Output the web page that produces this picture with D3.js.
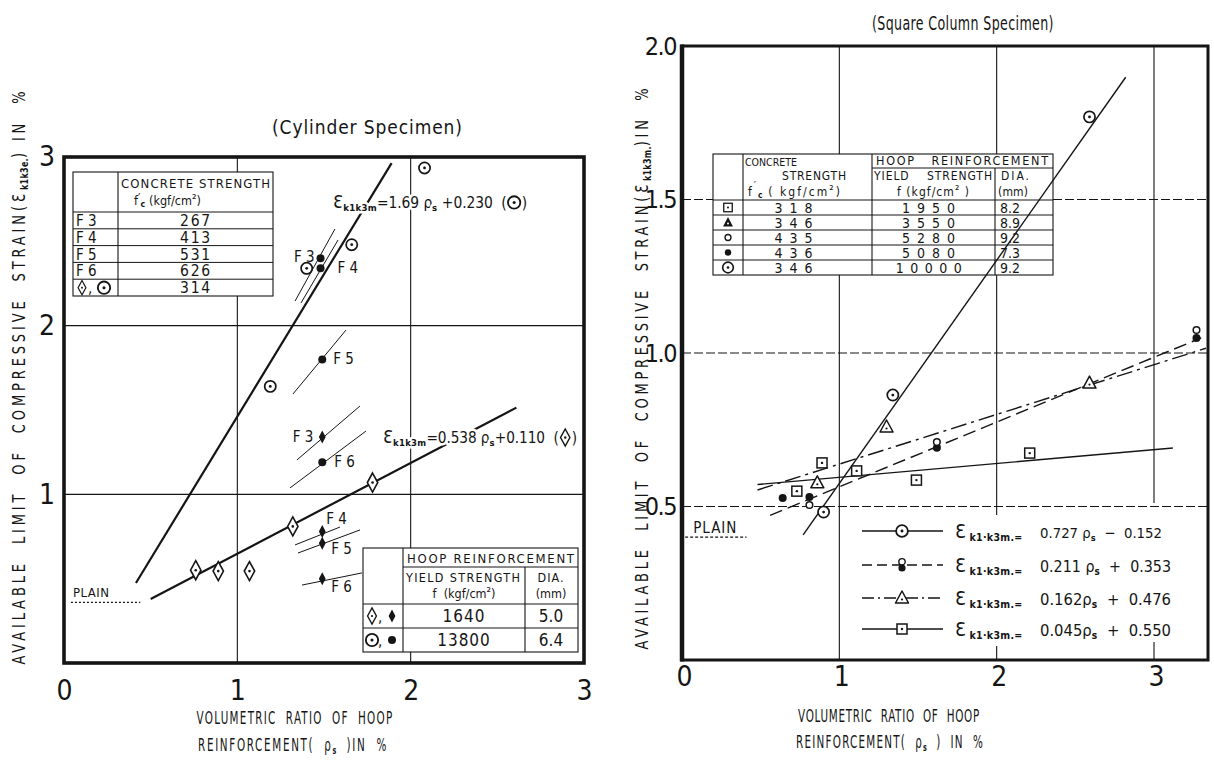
<!DOCTYPE html>
<html>
<head>
<meta charset="utf-8">
<script src="https://cdn.jsdelivr.net/npm/d3@7/dist/d3.min.js"></script>
<style>
  html, body { margin: 0; padding: 0; background: #fff; }
  svg text { font-family: "DejaVu Sans Condensed", "DejaVu Sans", "Liberation Sans Narrow", sans-serif; fill: #151515; }
</style>
</head>
<body>
<svg id="fig" width="1214" height="762" xml:space="preserve"></svg>
<script>
// ---------------- Cylinder specimens (left panel) ----------------
const cylXTicks = [0, 1, 2, 3];
const cylYTicks = [1, 2, 3];
const cylCircleOpen = [[1.19, 1.64], [1.40, 2.34], [1.66, 2.48], [2.08, 2.935]];
const cylFLabels = ["F 3", "F 4", "F 5", "F 6"];
const cylCircleFilled = [[1.48, 2.40], [1.48, 2.34], [1.49, 1.80], [1.49, 1.19]];
const cylDiamondOpen = [[0.76, 0.55], [0.89, 0.545], [1.07, 0.545], [1.32, 0.81], [1.78, 1.07]];
const cylDiamondFilled = [[1.49, 1.34], [1.49, 0.78], [1.49, 0.71], [1.49, 0.50]];
const cylCircleFilledFits = [[[1.333, 2.146], [1.563, 2.573]], [[1.367, 2.134], [1.581, 2.508]],
                             [[1.321, 1.595], [1.627, 1.974]], [[1.304, 1.038], [1.742, 1.375]]];
const cylDiamondFilledFits = [[[1.344, 1.204], [1.708, 1.524]], [[1.333, 0.700], [1.592, 0.806]],
                              [[1.350, 0.652], [1.708, 0.789]], [[1.373, 0.462], [1.719, 0.534]]];
const cylCircleFit = [[0.415, 0.474], [1.89, 2.964]];
const cylCircleEq = [1.69, 0.230];
const cylDiamondEq = [0.538, 0.110];
const cylDiamondFitRange = [0.50, 2.61];
const cylPlain = 0.36;
const cylPlainRange = [0.04, 0.44];
const cylStrengthNames = ["F 3", "F 4", "F 5", "F 6"];
const cylStrengthValues = [267, 413, 531, 626, 314];
const cylHoopYield = [1640, 13800];
const cylHoopDia = ["5.0", "6.4"];

// ---------------- Square column specimens (right panel) ----------------
const sqXTicks = [0, 1, 2, 3];
const sqYTicks = [0.5, 1.0, 1.5, 2.0];
const sqSquare = [[0.73, 0.55], [0.89, 0.642], [1.11, 0.616], [1.49, 0.586], [2.21, 0.674]];
const sqTriangle = [[0.86, 0.577], [1.30, 0.759], [2.59, 0.902]];
const sqCircleOpen = [[0.81, 0.505], [1.62, 0.710], [3.27, 1.075]];
const sqCircleFilled = [[0.64, 0.528], [0.81, 0.531], [1.62, 0.691], [3.27, 1.049]];
const sqCircleDot = [[0.90, 0.482], [1.34, 0.863], [2.59, 1.769]];
const sqFitSlopes = [0.727, 0.211, 0.162, 0.045];
const sqFitIntercepts = [-0.152, 0.353, 0.476, 0.550];
const sqFitFrom = [0.77, 0.56, 0.48, 0.48];
const sqFitTo = [2.82, 3.30, 3.33, 3.12];
const sqPlain = 0.40;
const sqPlainRange = [0.02, 0.41];
const sqConcrete = [318, 346, 435, 436, 346];
const sqYield = [1950, 3550, 5280, 5080, 10000];
const sqDia = ["8.2", "8.9", "9.2", "7.3", "9.2"];

const INK = "#151515";
const svg = d3.select("#fig");

// ---------- helpers ----------
function marker(g, type, x, y, k = 1) {
  const m = g.append("g").attr("transform", `translate(${x},${y}) scale(${k})`);
  const dot = (dy = 0, r = 1.4, c = INK) => m.append("circle").attr("cy", dy).attr("r", r).attr("fill", c);
  const outline = sel => sel.attr("fill", "#fff").attr("stroke", INK);
  switch (type) {
    case "circleDot":
      outline(m.append("circle").attr("r", 5.6)).attr("stroke-width", 1.7); dot(); break;
    case "circleFilled":
      m.append("circle").attr("r", 4).attr("fill", INK); break;
    case "circleOpen":
      outline(m.append("circle").attr("r", 3.3)).attr("stroke-width", 1.5); break;
    case "diamondDot":
      outline(m.append("path").attr("d", "M0,-9.5L5.2,0L0,9.5L-5.2,0Z")).attr("stroke-width", 1.6); dot(0, 1.3); break;
    case "diamondFilled":
      m.append("path").attr("d", "M0,-6.5L3.4,0L0,6.5L-3.4,0Z").attr("fill", INK); break;
    case "squareDot":
      outline(m.append("rect").attr("x", -5).attr("y", -5).attr("width", 10).attr("height", 10)).attr("stroke-width", 1.5);
      dot(0, 1.2); break;
    case "triangleDot":
      outline(m.append("path").attr("d", "M0,-7L6.5,5L-6.5,5Z")).attr("stroke-width", 1.5).attr("stroke-linejoin", "round");
      dot(1.5, 1.1); break;
    case "triangleFilled":
      m.append("path").attr("d", "M0,-6L5.5,4.5L-5.5,4.5Z").attr("fill", INK); dot(1.2, 1.1, "#fff"); break;
    case "pair":
      outline(m.append("circle").attr("cy", -3.2).attr("r", 3.2)).attr("stroke-width", 1.4);
      m.append("circle").attr("cy", 3).attr("r", 3.6).attr("fill", INK); break;
  }
  return m;
}

// Run of text pieces (plain, subscript, inline marker) laid out left to right.
// o.sq narrows the glyphs horizontally; o.len spreads the run to a given width.
function rich(g, x, y, parts, o = {}) {
  let fs = o.fs || 15;
  const sq = o.sq || 1;
  const grp = g.append("g").attr("transform", `translate(${x},${y})` + (o.rotate ? ` rotate(${o.rotate})` : ""));
  const inner = grp.append("g");
  const items = parts.map(p => {
    if (p.m) return { p };
    const t = inner.append("text").style("white-space", "pre").text(p.t);
    if (p.sub) t.attr("font-weight", "bold");
    if (o.halo) t.attr("stroke", "#fff").attr("stroke-width", 5).attr("stroke-linejoin", "round").attr("paint-order", "stroke");
    return { p, t };
  });
  const size = () => items.forEach(it => {
    if (!it.t) return;
    const p = it.p;
    it.t.attr("font-size", p.sub ? fs * (p.k || 0.62) : fs * (p.k || 1))
      .attr("y", p.sub ? fs * (p.dy ?? 0.18) : (p.dy ?? 0));
  });
  const place = extra => {
    let pos = 0;
    items.forEach(it => {
      if (it.p.m) { it.x = pos; pos += it.p.w; return; }
      it.t.attr("x", pos).attr("letter-spacing", it.p.sub ? 0.3 : (o.ls || 0) + extra);
      pos += it.t.node().getComputedTextLength();
    });
    return pos;
  };
  size();
  let total = place(0);
  if (o.len) {
    const target = o.len / sq;
    if (total > target) { fs *= target / total; size(); total = place(0); }
    const n = items.filter(it => it.t && !it.p.sub).reduce((s, it) => s + it.p.t.length, 0);
    total = place((target - total) / n);
  }
  if (o.halo) {
    items.filter(it => it.p.m).forEach(it =>
      inner.append("rect").attr("x", it.x).attr("y", -fs * 0.9).attr("width", it.p.w).attr("height", fs * 1.1).attr("fill", "#fff"));
  }
  items.filter(it => it.p.m).forEach(it => marker(inner, it.p.m, it.x + it.p.w / 2, -fs * 0.36, it.p.s || 1));
  const w = total * sq;
  const shift = o.anchor === "middle" ? -w / 2 : o.anchor === "end" ? -w : 0;
  inner.attr("transform", `translate(${shift},0) scale(${sq},1)`);
  return grp;
}

// Single text; with o.len the run is spread (or shrunk) to that width.
function txt(g, x, y, s, o = {}) {
  const t = g.append("text").attr("x", x).attr("y", y).attr("font-size", o.fs || 14)
    .attr("text-anchor", o.anchor || "start").style("white-space", "pre").text(s);
  if (o.ls) t.attr("letter-spacing", o.ls);
  if (o.len) {
    const natural = t.node().getComputedTextLength();
    if (natural > o.len) t.attr("font-size", (o.fs || 14) * o.len / natural);
    t.attr("textLength", o.len).attr("lengthAdjust", "spacing");
  }
  return t;
}

function seg(g, x1, y1, x2, y2, w = 1, dash = null) {
  const l = g.append("line").attr("x1", x1).attr("y1", y1).attr("x2", x2).attr("y2", y2)
    .attr("stroke", INK).attr("stroke-width", w);
  if (dash) l.attr("stroke-dasharray", dash);
  return l;
}

// ======================= LEFT PANEL =======================
const L = svg.append("g");
const lx = d3.scaleLinear().domain([0, 3]).range([64, 584]);
const ly = d3.scaleLinear().domain([0, 3]).range([663, 157]);
const lline = d3.line().x(d => lx(d[0])).y(d => ly(d[1]));

// grid (broken where the tables sit)
const lt1 = { x: [73, 118, 273], y: [172, 212, 228.8, 245.6, 262.4, 279.2, 296] };
const lt2 = { x: [363, 403, 525, 578], y: [548, 567, 604, 628, 652] };
const lGrid = L.append("g");
seg(lGrid, lx(1), ly(3), lx(1), lt1.y[0], 1.1);
seg(lGrid, lx(1), lt1.y[6], lx(1), ly(0), 1.1);
seg(lGrid, lx(2), ly(3), lx(2), lt2.y[0], 1.1);
seg(lGrid, lx(2), lt2.y[4], lx(2), ly(0), 1.1);
[1, 2].forEach(v => seg(lGrid, lx(0), ly(v), lx(3), ly(v), 1.1));

// concrete strength table
const T1 = L.append("g");
T1.append("rect").attr("x", lt1.x[0]).attr("y", lt1.y[0]).attr("width", lt1.x[2] - lt1.x[0])
  .attr("height", lt1.y[6] - lt1.y[0]).attr("fill", "#fff").attr("stroke", INK).attr("stroke-width", 1.1);
seg(T1, lt1.x[1], lt1.y[0], lt1.x[1], lt1.y[6], 1.1);
lt1.y.slice(1, 6).forEach(y => seg(T1, lt1.x[0], y, lt1.x[2], y, 1));
txt(T1, 121, 188, "CONCRETE STRENGTH", { fs: 13, len: 149 });
rich(T1, 134, 205, [{ t: "f" }, { t: "′", dy: -3 }, { t: "c", sub: true, k: 0.7 }, { t: " (kgf/cm" }, { t: "²", dy: -2 }, { t: ")" }], { fs: 12.5 });
cylStrengthValues.forEach((v, i) => {
  const base = lt1.y[i + 1] + 14;
  if (i < cylStrengthNames.length) txt(T1, 76, base, cylStrengthNames[i], { fs: 15 });
  txt(T1, 196, base, String(v), { fs: 15.5, anchor: "middle", ls: 1.8 });
});
marker(T1, "diamondDot", 82, lt1.y[5] + 8.5, 0.75);
txt(T1, 88, lt1.y[5] + 14, ",", { fs: 15 });
marker(T1, "circleDot", 104, lt1.y[5] + 8.5, 1.1);

// hoop reinforcement table
const T2 = L.append("g");
T2.append("rect").attr("x", lt2.x[0]).attr("y", lt2.y[0]).attr("width", lt2.x[3] - lt2.x[0])
  .attr("height", lt2.y[4] - lt2.y[0]).attr("fill", "#fff").attr("stroke", INK).attr("stroke-width", 1.1);
seg(T2, lt2.x[1], lt2.y[0], lt2.x[1], lt2.y[4], 1.1);
seg(T2, lt2.x[2], lt2.y[1], lt2.x[2], lt2.y[4], 1.1);
seg(T2, lt2.x[1], lt2.y[1], lt2.x[3], lt2.y[1], 1);
seg(T2, lt2.x[0], lt2.y[2], lt2.x[3], lt2.y[2], 1);
seg(T2, lt2.x[0], lt2.y[3], lt2.x[3], lt2.y[3], 1);
txt(T2, 407, 563, "HOOP REINFORCEMENT", { fs: 13, len: 167 });
txt(T2, 406, 582, "YIELD STRENGTH", { fs: 12.5, len: 114 });
rich(T2, 464, 598, [{ t: "f  (kgf/cm" }, { t: "²", dy: -2 }, { t: ")" }], { fs: 12.5, anchor: "middle" });
txt(T2, 551, 582, "DIA.", { fs: 12.5, anchor: "middle", ls: 1 });
txt(T2, 551, 598, "(mm)", { fs: 12.5, anchor: "middle" });
cylHoopYield.forEach((v, i) => {
  const base = lt2.y[i + 2] + 18;
  txt(T2, 464, base, String(v), { fs: 17, anchor: "middle", ls: 1 });
  txt(T2, 551, base, cylHoopDia[i], { fs: 17, anchor: "middle" });
});
marker(T2, "diamondDot", 372, lt2.y[2] + 12, 0.85);
txt(T2, 378, lt2.y[2] + 18, ",", { fs: 15 });
marker(T2, "diamondFilled", 392, lt2.y[2] + 12, 1);
marker(T2, "circleDot", 372, lt2.y[3] + 12, 1.1);
txt(T2, 378, lt2.y[3] + 18, ",", { fs: 15 });
marker(T2, "circleFilled", 392, lt2.y[3] + 12, 1);

// frame
L.append("rect").attr("x", lx(0)).attr("y", ly(3)).attr("width", lx(3) - lx(0)).attr("height", ly(0) - ly(3))
  .attr("fill", "none").attr("stroke", INK).attr("stroke-width", 3.6);

// axes
L.append("g").attr("transform", `translate(0,${ly(0)})`)
  .call(d3.axisBottom(lx).tickValues(cylXTicks).tickSize(0).tickPadding(17).tickFormat(d3.format("d")))
  .call(g => g.select(".domain").remove()).attr("font-size", 28);
L.append("g").attr("transform", `translate(${lx(0)},0)`)
  .call(d3.axisLeft(ly).tickValues(cylYTicks).tickSize(0).tickPadding(9).tickFormat(d3.format("d")))
  .call(g => g.select(".domain").remove()).attr("font-size", 28);

// plain concrete level
seg(L, lx(cylPlainRange[0]), ly(cylPlain), lx(cylPlainRange[1]), ly(cylPlain), 1.2, "2,2");
txt(L, lx(cylPlainRange[0]) + 2, ly(cylPlain) - 5, "PLAIN", { fs: 13, ls: 0.5 });

// fitted lines
const lLines = L.append("g").attr("fill", "none").attr("stroke", INK);
lLines.append("path").attr("d", lline(cylCircleFit)).attr("stroke-width", 2.2);
lLines.append("path").attr("d", lline(cylDiamondFitRange.map(x => [x, cylDiamondEq[0] * x + cylDiamondEq[1]]))).attr("stroke-width", 2.2);
cylCircleFilledFits.concat(cylDiamondFilledFits).forEach(f => lLines.append("path").attr("d", lline(f)).attr("stroke-width", 1));

// equations
const fmt3 = d3.format(".3f");
rich(L, 333, 208, [{ t: "Ɛ", k: 1.2 }, { t: "k1k3m", sub: true }, { t: `=${cylCircleEq[0]} ρ` }, { t: "s", sub: true },
  { t: ` +${fmt3(cylCircleEq[1])}  (` }, { m: "circleDot", w: 15, s: 1.1 }, { t: ")" }], { fs: 17, len: 194, halo: true });
rich(L, 383, 443, [{ t: "Ɛ", k: 1.2 }, { t: "k1k3m", sub: true }, { t: `=${cylDiamondEq[0]} ρ` }, { t: "s", sub: true },
  { t: `+${fmt3(cylDiamondEq[1])}  (` }, { m: "diamondDot", w: 13, s: 0.9 }, { t: ")" }], { fs: 17, len: 194, halo: true });

// specimen markers
const lMarks = L.append("g");
cylCircleOpen.forEach(d => marker(lMarks, "circleDot", lx(d[0]), ly(d[1])));
cylDiamondOpen.forEach(d => marker(lMarks, "diamondDot", lx(d[0]), ly(d[1])));
cylCircleFilled.forEach(d => marker(lMarks, "circleFilled", lx(d[0]), ly(d[1])));
cylDiamondFilled.forEach(d => marker(lMarks, "diamondFilled", lx(d[0]), ly(d[1])));

// F-series labels: [dx, dy, anchor]
const circleLabelPos = [[-6, 4, "end"], [17, 5, "start"], [11, 5, "start"], [12, 5, "start"]];
const diamondLabelPos = [[-9, 5, "end"], [4, -7, "start"], [9, 11, "start"], [9, 13, "start"]];
cylCircleFilled.forEach((d, i) => txt(lMarks, lx(d[0]) + circleLabelPos[i][0], ly(d[1]) + circleLabelPos[i][1], cylFLabels[i], { fs: 15, anchor: circleLabelPos[i][2] }));
cylDiamondFilled.forEach((d, i) => txt(lMarks, lx(d[0]) + diamondLabelPos[i][0], ly(d[1]) + diamondLabelPos[i][1], cylFLabels[i], { fs: 15, anchor: diamondLabelPos[i][2] }));

// titles
txt(L, 272, 134, "(Cylinder Specimen)", { fs: 19, len: 190 });
rich(L, 295, 724, [{ t: "VOLUMETRIC  RATIO  OF  HOOP" }], { fs: 18, sq: 0.64, anchor: "middle", len: 197 });
rich(L, 293, 751, [{ t: "REINFORCEMENT(  ρ" }, { t: "s", sub: true }, { t: "  )IN  %" }], { fs: 18, sq: 0.64, anchor: "middle", len: 190 });
rich(L, 25, 376, [{ t: "AVAILABLE  LIMIT  OF  COMPRESSIVE  STRAIN(" }, { t: "Ɛ" }, { t: "k1k3e.", sub: true }, { t: ") IN  %" }],
  { fs: 17, sq: 0.85, anchor: "middle", len: 577, rotate: -90 });

// ======================= RIGHT PANEL =======================
const R = svg.append("g");
const rx = d3.scaleLinear().domain([0, 3]).range([682, 1154]);
const ry = d3.scaleLinear().domain([0, 2]).range([660, 46]);
const rline = d3.line().x(d => rx(d[0])).y(d => ry(d[1]));
const rRight = 1208;
const rt = { x: [713, 743, 872, 995, 1053], y: [154, 168, 200, 215, 230, 245, 260, 275] };
const legendTop = 515;

// grid
const rGrid = R.append("g");
seg(rGrid, rx(1), ry(2), rx(1), rt.y[0], 1.1);
seg(rGrid, rx(1), rt.y[7], rx(1), ry(0), 1.1);
seg(rGrid, rx(2), ry(2), rx(2), rt.y[0], 1.1);
seg(rGrid, rx(2), rt.y[7], rx(2), legendTop, 1.1);
seg(rGrid, rx(2), ry(0) - 14, rx(2), ry(0), 1.1);
seg(rGrid, rx(3), ry(2), rx(3), legendTop - 12, 1.1);
seg(rGrid, rx(3), ry(0) - 18, rx(3), ry(0), 1.1);
seg(rGrid, rx(0), ry(1.5), rt.x[0], ry(1.5), 1, "9,3");
seg(rGrid, rt.x[4], ry(1.5), rRight, ry(1.5), 1, "9,3");
[0.5, 1.0].forEach(v => seg(rGrid, rx(0), ry(v), rRight, ry(v), 1, "9,3"));

// table
const T3 = R.append("g");
T3.append("rect").attr("x", rt.x[0]).attr("y", rt.y[0]).attr("width", rt.x[4] - rt.x[0]).attr("height", rt.y[7] - rt.y[0])
  .attr("fill", "#fff").attr("stroke", INK).attr("stroke-width", 1.1);
seg(T3, rt.x[1], rt.y[0], rt.x[1], rt.y[7], 1.1);
seg(T3, rt.x[2], rt.y[0], rt.x[2], rt.y[7], 1.1);
seg(T3, rt.x[3], rt.y[1], rt.x[3], rt.y[7], 1.1);
seg(T3, rt.x[2], rt.y[1], rt.x[4], rt.y[1], 1);
rt.y.slice(2, 7).forEach(y => seg(T3, rt.x[0], y, rt.x[4], y, 1));
txt(T3, 745, 166, "CONCRETE", { fs: 11, len: 52 });
txt(T3, 782, 180, "STRENGTH", { fs: 12, len: 64 });
rich(T3, 748, 196, [{ t: "f" }, { t: "′", dy: -7, k: 0.9 }, { t: "c", sub: true, k: 0.7 }, { t: " ( kgf/cm" }, { t: "²", dy: -2 }, { t: ")" }], { fs: 12, len: 94 });
txt(T3, 876, 165, "HOOP   REINFORCEMENT", { fs: 12.5, len: 172 });
txt(T3, 874, 180, "YIELD    STRENGTH", { fs: 12, len: 118 });
rich(T3, 897, 196, [{ t: "f (kgf/cm" }, { t: "²", dy: -2 }, { t: " )" }], { fs: 12, len: 73 });
txt(T3, 1001, 180, "DIA.", { fs: 12, len: 28 });
txt(T3, 998, 196, "(mm)", { fs: 12, len: 30 });
const tableMarks = ["squareDot", "triangleFilled", "circleOpen", "circleFilled", "circleDot"];
const tableMarkScale = [0.85, 0.9, 0.9, 0.8, 0.95];
sqConcrete.forEach((v, i) => {
  const top = rt.y[i + 2], base = top + 12.5;
  marker(T3, tableMarks[i], 728, top + 7.5, tableMarkScale[i]);
  txt(T3, 797, base, String(v), { fs: 14, anchor: "middle", ls: 7 });
  txt(T3, 932, base, String(sqYield[i]), { fs: 14, anchor: "middle", ls: sqYield[i] >= 10000 ? 6.5 : 7 });
  txt(T3, 1010, base, sqDia[i], { fs: 14, anchor: "middle" });
});

// frame
R.append("rect").attr("x", rx(0)).attr("y", ry(2)).attr("width", rRight - rx(0)).attr("height", ry(0) - ry(2))
  .attr("fill", "none").attr("stroke", INK).attr("stroke-width", 3);
seg(R, rx(0), ry(2) - 1.5, rx(0), ry(0) + 1.5, 4.5);

// axes
R.append("g").attr("transform", `translate(2,${ry(0)})`)
  .call(d3.axisBottom(rx).tickValues(sqXTicks).tickSize(0).tickPadding(6).tickFormat(d3.format("d")))
  .call(g => g.select(".domain").remove()).attr("font-size", 28);
R.append("g").attr("transform", `translate(${rx(0) - 4},0)`)
  .call(d3.axisLeft(ry).tickValues(sqYTicks).tickSize(0).tickPadding(2).tickFormat(d3.format(".1f")))
  .call(g => g.select(".domain").remove()).attr("font-size", 25).attr("letter-spacing", -1.5);

// plain concrete level
seg(R, rx(sqPlainRange[0]), ry(sqPlain), rx(sqPlainRange[1]), ry(sqPlain), 1.2, "3,2");
txt(R, rx(sqPlainRange[0]) + 8, ry(sqPlain) - 4, "PLAIN", { fs: 15, ls: 1 });

// fitted lines
const fitDash = [null, "13,6", "16,5,3,5", null];
const rLines = R.append("g").attr("fill", "none").attr("stroke", INK);
sqFitSlopes.forEach((a, i) => {
  const pts = [sqFitFrom[i], sqFitTo[i]].map(x => [x, a * x + sqFitIntercepts[i]]);
  const p = rLines.append("path").attr("d", rline(pts)).attr("stroke-width", 1.4);
  if (fitDash[i]) p.attr("stroke-dasharray", fitDash[i]);
});

// specimen markers
const rMarks = R.append("g");
sqSquare.forEach(d => marker(rMarks, "squareDot", rx(d[0]), ry(d[1])));
sqTriangle.forEach(d => marker(rMarks, "triangleDot", rx(d[0]), ry(d[1])));
sqCircleFilled.forEach(d => marker(rMarks, "circleFilled", rx(d[0]), ry(d[1])));
sqCircleOpen.forEach(d => marker(rMarks, "circleOpen", rx(d[0]), ry(d[1])));
sqCircleDot.forEach(d => marker(rMarks, "circleDot", rx(d[0]), ry(d[1])));

// legend
const legendY = [531, 565, 598, 629];
const legendMarks = ["circleDot", "pair", "triangleDot", "squareDot"];
const legendDash = [null, "10,5", "12,4,2,4", null];
legendY.forEach((y, i) => {
  seg(R, 862, y, 943, y, 1.4, legendDash[i]);
  marker(R, legendMarks[i], 902, y, i === 0 ? 1.05 : 1);
  rich(R, 955, y + 7, [{ t: "Ɛ", k: 1.15 }, { t: " k1·k3m.=", sub: true, k: 0.62 }], { fs: 17 });
  const a = sqFitSlopes[i], b = sqFitIntercepts[i];
  const gap = i < 2 ? " " : "";
  rich(R, 1040, y + 7, [{ t: `${fmt3(a)}${gap}ρ` }, { t: "s", sub: true }, { t: `  ${b < 0 ? "−" : "+"}  ${fmt3(Math.abs(b))}` }],
    { fs: 17, len: i === 0 ? 122 : 131 });
});

// titles
rich(R, 872, 30, [{ t: "(Square Column Specimen)" }], { fs: 19, sq: 0.74, len: 182 });
rich(R, 889, 722, [{ t: "VOLUMETRIC  RATIO  OF  HOOP" }], { fs: 18, sq: 0.64, anchor: "middle", len: 182 });
rich(R, 890, 748, [{ t: "REINFORCEMENT(  ρ" }, { t: "s", sub: true }, { t: "  )  IN  %" }], { fs: 18, sq: 0.64, anchor: "middle", len: 188 });
rich(R, 648, 367, [{ t: "AVAILABLE  LIMIT  OF  COMPRESSIVE  STRAIN(" }, { t: "Ɛ" }, { t: "k1k3m.", sub: true }, { t: ")IN  %" }],
  { fs: 17, sq: 0.85, anchor: "middle", len: 565, rotate: -90 });
</script>
</body>
</html>
